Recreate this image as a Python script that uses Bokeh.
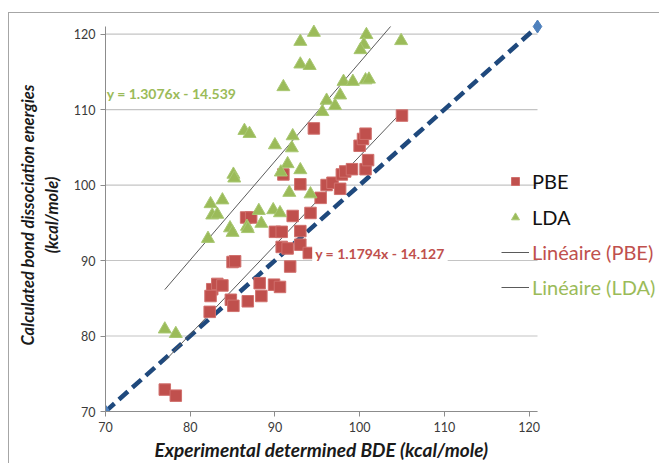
from bokeh.plotting import figure
from bokeh.models import Range1d, FixedTicker, Legend, LegendItem, Label, Title
from bokeh.embed import file_html
from bokeh.resources import INLINE

# ---------------- data ----------------
ticks = [70, 80, 90, 100, 110, 120]
axis_min, axis_max = 70, 121
ref_line = [70, 121]  # y = x reference line

pbe_x = [77.0, 78.3, 82.3, 82.6, 82.4, 83.2, 83.8, 85.0, 85.3, 84.8, 85.1, 86.8,
         86.6, 87.2, 88.2, 88.4, 89.9, 90.6, 90.0, 90.8, 90.8, 91.5, 91.8, 92.1,
         93.0, 93.0, 93.0, 94.0, 94.2, 96.1, 96.8, 97.7, 95.4, 94.6, 91.0, 97.9,
         98.3, 99.1, 100.7, 101.0, 100.0, 100.4, 100.7, 105.0]
pbe_y = [72.9, 72.1, 83.2, 86.2, 85.3, 86.9, 86.7, 89.8, 89.9, 84.8, 84.0, 84.6,
         95.7, 95.7, 87.0, 85.3, 86.8, 86.5, 93.8, 93.8, 91.8, 91.6, 89.2, 95.9,
         100.1, 93.9, 92.1, 91.0, 96.3, 100.0, 100.3, 99.5, 98.3, 107.5, 101.4, 101.4,
         101.8, 102.1, 102.1, 103.3, 105.2, 106.1, 106.8, 109.2]

lda_x = [77.0, 78.3, 82.1, 82.4, 82.6, 83.2, 83.8, 84.7, 85.0, 85.1, 85.2, 86.7,
         86.8, 88.1, 88.4, 89.8, 90.6, 91.7, 94.2, 93.0, 93.0, 94.1, 91.0, 86.4,
         87.0, 90.0, 92.1, 92.0, 91.5, 90.7, 93.0, 94.6, 100.8, 100.5, 100.1, 104.9,
         98.1, 99.2, 100.7, 101.1, 97.7, 96.1, 97.1, 95.6]
lda_y = [80.9, 80.3, 92.9, 97.5, 96.0, 96.1, 98.0, 94.3, 93.7, 101.4, 100.9, 94.5,
         94.2, 96.6, 94.9, 96.7, 96.3, 99.0, 98.8, 119.0, 116.0, 115.8, 113.0, 107.2,
         106.8, 105.3, 106.5, 104.9, 102.8, 101.7, 102.0, 120.2, 119.9, 118.6, 117.9, 119.1,
         113.7, 113.7, 113.9, 114.0, 111.9, 111.2, 110.5, 109.7]

pbe_fit = (1.1794, -14.127)
lda_fit = (1.3076, -14.539)
pbe_eq = "y = 1.1794x - 14.127"
lda_eq = "y = 1.3076x - 14.539"

RED = "#c0504d"
GREEN = "#9bbb59"
FONT = "Lato"

# trendlines over each series' x-range (stopped at the axis maximum)
def fit_line(xs, fit):
    x0 = min(xs)
    x1 = min(max(xs), (axis_max - fit[1]) / fit[0])
    return [x0, x1], [fit[0] * x0 + fit[1], fit[0] * x1 + fit[1]]

pbe_tx, pbe_ty = fit_line(pbe_x, pbe_fit)
lda_tx, lda_ty = fit_line(lda_x, lda_fit)

# ---------------- layout (pixels) ----------------
ppx = 432 / 51.0          # pixels per x unit
ppy = 385 / 51.0          # pixels per y unit
FW, FH = 554, 393         # frame reaches past x=121 to host the legend
x_end = axis_min + FW / ppx
y_end = axis_min + FH / ppy

p = figure(frame_width=FW, frame_height=FH,
           x_range=Range1d(axis_min, x_end), y_range=Range1d(axis_min, y_end),
           output_backend="svg", toolbar_location=None,
           min_border_left=96, min_border_top=5,
           min_border_right=0, min_border_bottom=52)
p.styles = {"margin-left": "8px", "margin-top": "12px",
            "border-left": "1px solid #a6a6a6", "border-top": "1px solid #a6a6a6"}
p.outline_line_color = None
p.background_fill_color = "white"
p.xgrid.visible = False
p.ygrid.visible = False

for ax in (p.xaxis[0], p.yaxis[0]):
    ax.ticker = FixedTicker(ticks=ticks)
    ax.bounds = (axis_min, axis_max)
    ax.axis_line_color = "#8c8c8c"
    ax.major_tick_line_color = "#8c8c8c"
    ax.minor_tick_line_color = None
    ax.major_tick_in = 0
    ax.major_tick_out = 5
    ax.major_label_text_font = FONT
    ax.major_label_text_font_size = "12.5px"
    ax.major_label_text_color = "#3a3a3a"
    ax.axis_label_text_font = FONT
    ax.axis_label_text_font_style = "bold italic"
    ax.axis_label_text_color = "#1a1a1a"

p.xaxis.major_label_standoff = 5
p.yaxis.axis_label = "Calculated bond dissociation energies\n(kcal/mole)"
p.yaxis.axis_label_text_font_size = "16.5px"
p.yaxis.major_label_standoff = 5
p.yaxis.axis_label_standoff = 9

# x-axis title, centred under the 70-121 axis (not under the wider frame)
p.add_layout(Title(text="Experimental determined BDE (kcal/mole)", align="left",
                   offset=49, standoff=2, text_font=FONT, text_font_size="19px",
                   text_font_style="bold italic", text_color="#1a1a1a"), "below")

# horizontal gridlines at the tick values, between the axis limits
p.segment(x0=[axis_min] * len(ticks), y0=ticks, x1=[axis_max] * len(ticks), y1=ticks,
          line_color="#c4c4c4", line_width=1.2)

# reference y = x line
p.line(ref_line, ref_line, line_color="#1f497d", line_width=4.5, line_dash="12 6")
p.scatter(ref_line, ref_line, marker="diamond", size=13, color="#4f81bd")

# trendlines
r_pbe_t = p.line(pbe_tx, pbe_ty, line_color="#5a5a5a", line_width=1)
r_lda_t = p.line(lda_tx, lda_ty, line_color="#5a5a5a", line_width=1)

# scatter series
r_pbe = p.scatter(pbe_x, pbe_y, marker="square", size=11.5, fill_color=RED,
                  line_color="#d0706d", line_width=1)
r_lda = p.scatter(lda_x, lda_y, marker="triangle", size=13, fill_color=GREEN,
                  line_color="#a9c873", line_width=1)

# equation labels
p.add_layout(Label(x=70.15, y=112.1, text=lda_eq, text_color=GREEN,
                   text_font=FONT, text_font_style="bold", text_font_size="14px",
                   text_baseline="middle"))
p.add_layout(Label(x=94.4, y=90.9, text=pbe_eq, text_color=RED,
                   text_font=FONT, text_font_style="bold", text_font_size="14px",
                   text_baseline="middle", background_fill_color="white", padding=3))

# legends (one per entry so every label keeps its own colour)
def add_legend(label, rend, color, loc):
    leg = Legend(items=[LegendItem(label=label, renderers=[rend])],
                 location=loc, label_text_color=color, label_text_font=FONT,
                 label_text_font_size="20px", background_fill_alpha=0,
                 border_line_alpha=0, padding=0, margin=0, spacing=0,
                 glyph_width=28, glyph_height=20, label_height=20,
                 label_standoff=3)
    p.add_layout(leg)

add_legend("PBE", r_pbe, "#111111", (396, 218))
add_legend("LDA", r_lda, "#111111", (396, 182))
add_legend("Linéaire (PBE)", r_pbe_t, RED, (396, 147))
add_legend("Linéaire (LDA)", r_lda_t, GREEN, (396, 112))

open("out.html", "w").write(file_html(p, INLINE))
